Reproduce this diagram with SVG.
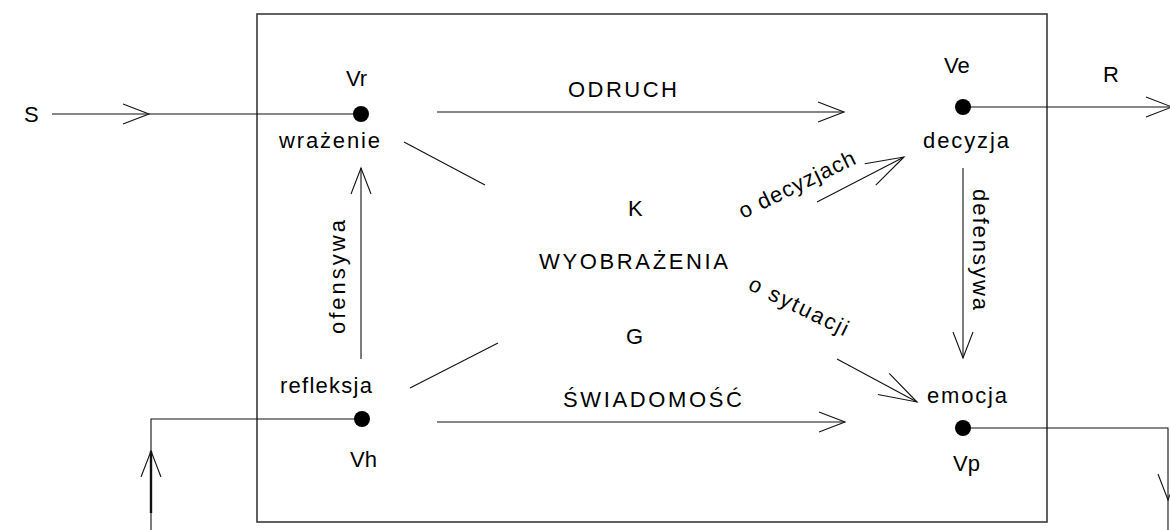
<svg xmlns="http://www.w3.org/2000/svg" width="1170" height="530" viewBox="0 0 1170 530">
<defs>
<style>
.t{font-family:"Liberation Sans",Arial,sans-serif;font-size:22px;fill:#000}
.ln{stroke:#111;stroke-width:1.1;fill:none}
.box{stroke:#3a3a3a;stroke-width:1.6;fill:none}
.dot{fill:#000}
</style>
<marker id="ah" markerUnits="userSpaceOnUse" markerWidth="40" markerHeight="30" refX="28" refY="12" orient="auto" overflow="visible">
<path d="M2,2 L28,12 L2,22" fill="none" stroke="#111" stroke-width="1.1"/>
</marker>
<marker id="ahl" markerUnits="userSpaceOnUse" markerWidth="50" markerHeight="40" refX="40" refY="14" orient="auto" overflow="visible">
<path d="M2,2 L40,14 L2,26" fill="none" stroke="#111" stroke-width="1.1"/>
</marker>
</defs>
<rect width="1170" height="530" fill="#fff"/>
<g id="system">
<rect class="box" x="257" y="14" width="790" height="508"/>
</g>
<g id="connectors">
<line class="ln" x1="52" y1="114" x2="149" y2="114" marker-end="url(#ah)"/>
<line class="ln" x1="149" y1="114" x2="361" y2="114"/>
<line class="ln" x1="437" y1="112" x2="844" y2="112" marker-end="url(#ah)"/>
<line class="ln" x1="963" y1="107" x2="1172" y2="107" marker-end="url(#ah)"/>
<line class="ln" x1="963" y1="168" x2="963" y2="358" marker-end="url(#ah)"/>
<line class="ln" x1="361" y1="359" x2="361" y2="168" marker-end="url(#ah)"/>
<line class="ln" x1="437" y1="422" x2="845" y2="422" marker-end="url(#ah)"/>
<line class="ln" x1="404" y1="142" x2="485" y2="185"/>
<line class="ln" x1="410" y1="388" x2="498" y2="343"/>
<line class="ln" x1="817" y1="202" x2="904" y2="157" marker-end="url(#ahl)"/>
<line class="ln" x1="837" y1="359" x2="917" y2="402" marker-end="url(#ahl)"/>
<polyline class="ln" points="963,428 1168,428 1168,500" marker-end="url(#ah)"/>
<line class="ln" x1="1168" y1="500" x2="1168" y2="530"/>
<polyline class="ln" points="362,419 151,419 151,530"/>
<line x1="151" y1="513" x2="151" y2="451" stroke="#111" stroke-width="2.4" marker-end="url(#ah)"/>
<text class="t" x="568" y="97" textLength="109" lengthAdjust="spacing">ODRUCH</text>
<text class="t" x="563" y="407" textLength="179" lengthAdjust="spacing">ŚWIADOMOŚĆ</text>
<text class="t" transform="translate(345,334) rotate(-90)" textLength="114" lengthAdjust="spacing">ofensywa</text>
<text class="t" transform="translate(973,189) rotate(90)" textLength="121" lengthAdjust="spacing">defensywa</text>
<text class="t" transform="translate(743,219) rotate(-26)" textLength="127" lengthAdjust="spacing">o decyzjach</text>
<text class="t" transform="translate(747,289) rotate(26)" textLength="108" lengthAdjust="spacing">o sytuacji</text>
<text class="t" x="24" y="122">S</text>
<text class="t" x="1103" y="82">R</text>
</g>
<g id="node-vr">
<circle class="dot" cx="361" cy="114" r="8"/>
<text class="t" x="346" y="86">Vr</text>
<text class="t" x="279" y="148" textLength="101" lengthAdjust="spacing">wrażenie</text>
</g>
<g id="node-ve">
<circle class="dot" cx="963" cy="107" r="8"/>
<text class="t" x="944" y="73">Ve</text>
<text class="t" x="923" y="148" textLength="86" lengthAdjust="spacing">decyzja</text>
</g>
<g id="node-vh">
<circle class="dot" cx="362" cy="419" r="8"/>
<text class="t" x="280" y="393" textLength="92" lengthAdjust="spacing">refleksja</text>
<text class="t" x="350" y="467">Vh</text>
</g>
<g id="node-vp">
<circle class="dot" cx="963" cy="428" r="8"/>
<text class="t" x="927" y="403" textLength="80" lengthAdjust="spacing">emocja</text>
<text class="t" x="953" y="471">Vp</text>
</g>
<g id="node-center">
<text class="t" x="628" y="216">K</text>
<text class="t" x="539" y="269" textLength="189" lengthAdjust="spacing">WYOBRAŻENIA</text>
<text class="t" x="626" y="344">G</text>
</g>
</svg>
